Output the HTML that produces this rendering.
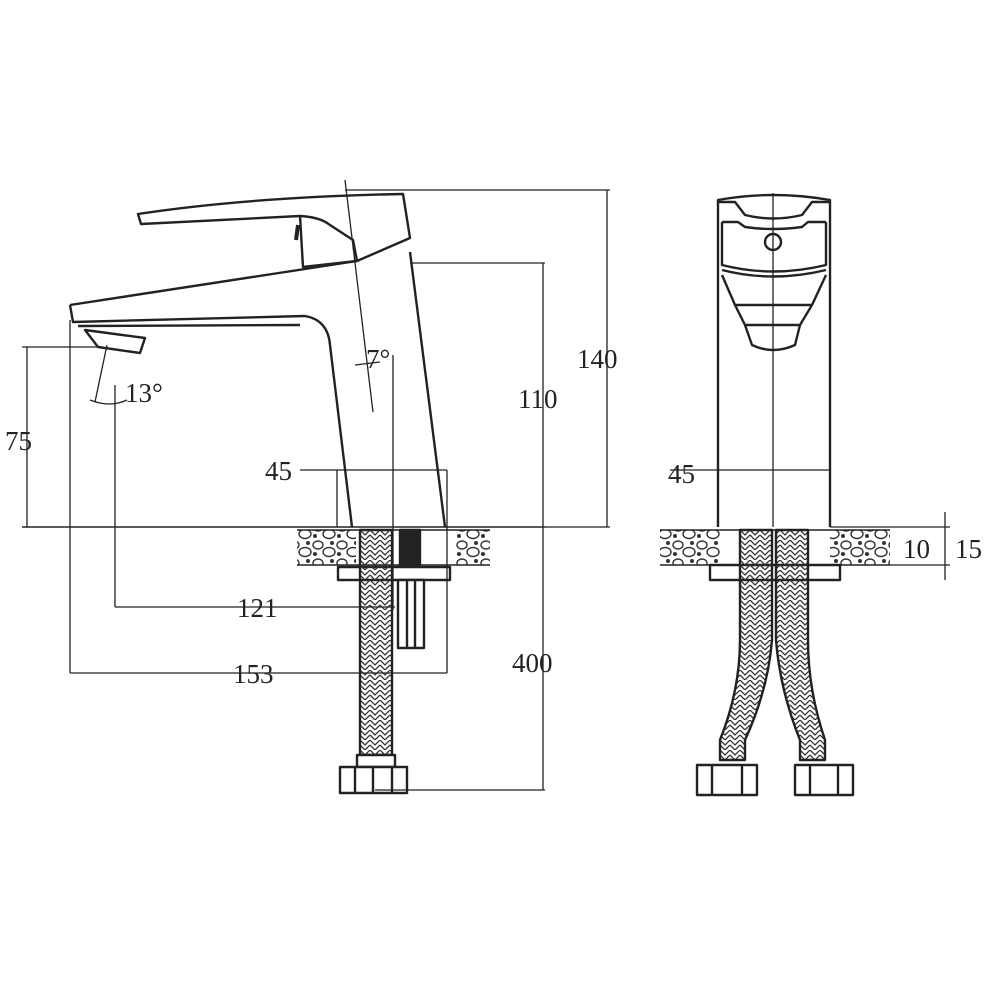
<!DOCTYPE html>
<html><head><meta charset="utf-8"><style>
html,body{margin:0;padding:0;background:#fff;}
svg{display:block}
text{font-family:"Liberation Serif",serif;font-size:27px;fill:#222;}
</style></head><body>
<svg width="1000" height="1000" viewBox="0 0 1000 1000" xmlns="http://www.w3.org/2000/svg">
<defs>
<pattern id="braid" width="10" height="10" patternUnits="userSpaceOnUse">
<path d="M0 0 L5 5 L10 0 M0 5 L5 10 L10 5" stroke="#333" stroke-width="1.3" fill="none"/>
</pattern>
<pattern id="rock" width="24" height="18" patternUnits="userSpaceOnUse">
<ellipse cx="6" cy="5" rx="5" ry="4" fill="none" stroke="#333" stroke-width="1.4"/>
<ellipse cx="17" cy="12" rx="6" ry="4.5" fill="none" stroke="#333" stroke-width="1.4"/>
<circle cx="3" cy="14" r="2" fill="#333"/>
<circle cx="20" cy="3" r="2" fill="#333"/>
</pattern>
</defs>
<g stroke="#222" stroke-width="2.4" fill="none" stroke-linejoin="round">
<!-- LEFT VIEW -->
<path d="M138 214 Q250 197 403 194 L410 238 L357 261 L303 267 L300 216 L141 224 Z" fill="#fff"/>
<path d="M300 216 Q320 217 330 225 L353 240 L357 261"/>
<path d="M298 225 L296 240" stroke-width="4"/>
<!-- spout/body -->
<path d="M70 305 L357 261 M410 252 L445 527"/>
<path d="M70 305 L73 322 L305 316 Q328 320 330 345 L352 527"/>
<path d="M78 326 L300 325"/>
<path d="M85 330 L145 338 L140 353 L98 347 Z" fill="#fff"/>
<!-- base line -->
<path d="M22 527 L545 527" stroke-width="1.5"/>
<!-- countertop -->
<rect x="297" y="530" width="193" height="35" fill="url(#rock)" stroke="none"/>
<rect x="356" y="530" width="100" height="35" fill="#fff" stroke="none"/>
<path d="M297 530 L490 530 M297 565 L490 565" stroke-width="1.5"/>
<rect x="400" y="530" width="20" height="35" fill="#222"/>
<rect x="338" y="567" width="112" height="13" fill="#fff"/>
<rect x="398" y="580" width="26" height="68" fill="#fff"/>
<path d="M407 580 L407 648 M415 580 L415 648"/>
<!-- hose -->
<rect x="360" y="530" width="32" height="225" fill="url(#braid)" stroke="#222"/>
<rect x="357" y="755" width="38" height="12" fill="#fff"/>
<rect x="340" y="767" width="67" height="26" fill="#fff"/>
<path d="M355 767 L355 793 M373 767 L373 793 M392 767 L392 793"/>
<!-- dims -->
<g stroke-width="1.3">
<path d="M345 190 L610 190 M607 190 L607 527 M610 527 L545 527"/>
<path d="M410 263 L545 263 M543 263 L543 790 M375 790 L545 790"/>
<path d="M22 347 L100 347 M27 347 L27 527"/>
<path d="M115 385 L115 607 M115 607 L395 607"/>
<path d="M70 320 L70 673 M70 673 L447 673 M447 470 L447 673"/>
<path d="M300 470 L447 470 M337 470 L337 527"/>
<path d="M393 355 L393 610"/>
<path d="M345 180 L373 412"/>
<path d="M355 365 L380 362"/>
<path d="M107 345 L95 402 M90 400 Q110 408 127 400"/>
</g>
<!-- RIGHT VIEW -->
<path d="M718 527 L718 200 Q773 190 830 200 L830 527"/>
<path d="M718 202 L735 202 L745 215 Q773 222 802 215 L812 202 L830 202"/>
<path d="M722 222 L738 222 L745 227 Q773 231 802 227 L808 222 L826 222"/>
<path d="M722 222 L722 265 Q773 278 826 265 L826 222"/>
<path d="M722 270 Q773 283 826 270"/>
<path d="M722 275 L735 305 L745 325 L800 325 L812 305 L826 275"/>
<path d="M735 305 L812 305"/>
<path d="M745 325 L752 345 Q773 355 795 345 L800 325"/>
<circle cx="773" cy="242" r="8"/>
<path d="M773 193 L773 527" stroke-width="1.3"/>
<rect x="660" y="530" width="230" height="35" fill="url(#rock)" stroke="none"/>
<rect x="720" y="530" width="110" height="35" fill="#fff" stroke="none"/>
<path d="M660 530 L890 530 M660 565 L890 565" stroke-width="1.5"/>
<rect x="710" y="565" width="130" height="15" fill="#fff"/>
<path d="M740 530 L740 640 Q740 690 720 740 L720 760 L745 760 L745 740 Q768 690 772 640 L772 530 Z" fill="url(#braid)"/>
<path d="M776 530 L776 640 Q780 690 800 740 L800 760 L825 760 L825 740 Q808 690 808 640 L808 530 Z" fill="url(#braid)"/>
<rect x="697" y="765" width="60" height="30" fill="#fff"/>
<rect x="795" y="765" width="58" height="30" fill="#fff"/>
<path d="M712 765 L712 795 M742 765 L742 795 M810 765 L810 795 M838 765 L838 795"/>
<g stroke-width="1.3">
<path d="M670 470 L830 470"/>
<path d="M830 527 L950 527 M890 565 L950 565 M945 512 L945 580 M945 530 L945 540"/>
</g>
</g>
<text x="577" y="368">140</text>
<text x="518" y="408">110</text>
<text x="512" y="672" font-size="29">400</text>
<text x="5" y="450">75</text>
<text x="237" y="617">121</text>
<text x="233" y="683">153</text>
<text x="265" y="480">45</text>
<text x="366" y="368">7°</text>
<text x="125" y="402">13°</text>
<text x="668" y="483">45</text>
<text x="903" y="558">10</text>
<text x="955" y="558">15</text>
</svg>
</body></html>
